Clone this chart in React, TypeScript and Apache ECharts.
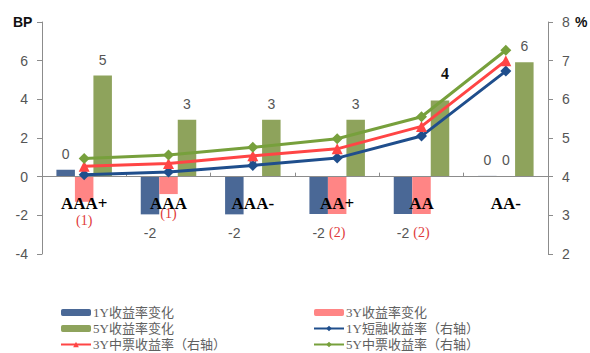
import React, { useEffect, useRef } from "react";
import * as echarts from "echarts";

const categories = ["AAA+", "AAA", "AAA-", "AA+", "AA", "AA-"];
const oneYChange = [0.36, -1.95, -1.95, -1.93, -1.93, 0.04];
const threeYChange = [-1.3, -0.9, 0.04, -1.93, -1.93, 0.03];
const fiveYChange = [5.23, 2.94, 2.94, 2.94, 3.94, 5.92];
const oneYShortYield = [4.05, 4.12, 4.29, 4.48, 5.05, 6.73];
const threeYMtnYield = [4.27, 4.34, 4.54, 4.72, 5.3, 7.0];
const fiveYMtnYield = [4.47, 4.56, 4.76, 4.98, 5.55, 7.27];
const leftTicks = [-4, -2, 0, 2, 4, 6, 8];
const rightTicks = [2, 3, 4, 5, 6, 7, 8];

const NAMES = {
  b1: "1Y收益率变化",
  b3: "3Y收益率变化",
  b5: "5Y收益率变化",
  l1: "1Y短融收益率（右轴）",
  l3: "3Y中票收益率（右轴）",
  l5: "5Y中票收益率（右轴）",
};

const SERIF = "'Liberation Serif', 'DejaVu Serif', 'Noto Sans CJK SC', serif";
const SANS = "'Liberation Sans', Arial, sans-serif";

const GRID_TOP = 22;
const GRID_BOTTOM = 99;
const CHART_H = 353;

function barData(values: number[], kind: "blue" | "pink" | "green") {
  return values.map((v, i) => {
    const neg = v < 0;
    const label: any = {
      show: true,
      position: neg ? "bottom" : "top",
      distance: neg ? 12 : 9,
      fontSize: 14,
      fontFamily: SANS,
      color: "#555",
    };
    if (kind === "pink" && neg) {
      label.color = "#e03a3a";
      label.fontFamily = SERIF;
      label.formatter = "(" + Math.round(-v) + ")";
    } else {
      const r = Math.round(v);
      label.formatter = String(r === 0 ? 0 : r);
    }
    if (kind === "green" && i === 4) {
      label.offset = [5, -10];
      label.color = "#111";
      label.fontFamily = SERIF;
      label.fontWeight = "bold";
      label.fontSize = 16;
    }
    return { value: v, label };
  });
}

export default function App() {
  const ref = useRef<HTMLDivElement>(null);
  useEffect(() => {
    if (!ref.current) return;
    const chart = echarts.init(ref.current, undefined, { renderer: "svg" });
    const axisGray = "#8c8c8c";
    const lmin = leftTicks[0];
    const lmax = leftTicks[leftTicks.length - 1];
    const gridH = CHART_H - GRID_TOP - GRID_BOTTOM;
    // distance of the zero line above the grid bottom
    const zeroOffset = (gridH * (0 - lmin)) / (lmax - lmin);
    const legendCommon = {
      orient: "vertical",
      top: 306,
      height: 60,
      padding: 0,
      itemWidth: 30,
      itemHeight: 7,
      itemGap: 3,
      textStyle: { fontSize: 13, color: "#606060", fontFamily: SERIF, padding: [0, 0, 0, -3] },
    };
    chart.setOption({
      animation: false,
      backgroundColor: "#ffffff",
      grid: { left: 42, right: 42, top: GRID_TOP, bottom: GRID_BOTTOM, containLabel: false },
      graphic: [
        {
          type: "text",
          left: 13,
          top: 15,
          style: { text: "BP", font: "bold 14px " + SANS, fill: "#111" },
        },
        {
          type: "text",
          left: 575,
          top: 15,
          style: { text: "%", font: "bold 14px " + SANS, fill: "#111" },
        },
      ],
      legend: [
        { ...legendCommon, left: 60, data: [NAMES.b1, NAMES.b5, NAMES.l3] },
        { ...legendCommon, left: 313, data: [NAMES.b3, NAMES.l1, NAMES.l5] },
      ],
      xAxis: {
        type: "category",
        data: categories,
        z: 5,
        offset: -zeroOffset,
        axisLine: { onZero: false, lineStyle: { color: axisGray, width: 1 } },
        axisTick: { show: true, inside: true, length: 4, lineStyle: { color: axisGray } },
        axisLabel: {
          margin: 18,
          fontSize: 17,
          fontWeight: "bold",
          fontFamily: SERIF,
          color: "#000",
        },
        splitLine: { show: false },
      },
      yAxis: [
        {
          type: "value",
          min: lmin,
          max: lmax,
          interval: 2,
          axisLine: { show: true, onZero: false, lineStyle: { color: axisGray } },
          axisTick: { show: true, length: 5, lineStyle: { color: axisGray } },
          axisLabel: {
            margin: 14,
            fontSize: 14,
            fontFamily: SANS,
            color: "#555",
            formatter: (v: number) => (v === 8 ? "" : String(v)),
          },
          splitLine: { show: false },
        },
        {
          type: "value",
          min: rightTicks[0],
          max: rightTicks[rightTicks.length - 1],
          interval: 1,
          axisLine: { show: true, onZero: false, lineStyle: { color: axisGray } },
          axisTick: { show: true, length: 5, lineStyle: { color: axisGray } },
          axisLabel: { margin: 14, fontSize: 14, fontFamily: SANS, color: "#555" },
          splitLine: { show: false },
        },
      ],
      series: [
        {
          name: NAMES.b1,
          type: "bar",
          yAxisIndex: 0,
          barWidth: 18.5,
          barGap: "0%",
          itemStyle: { color: "#4a6896" },
          data: barData(oneYChange, "blue"),
        },
        {
          name: NAMES.b3,
          type: "bar",
          yAxisIndex: 0,
          barWidth: 18.5,
          barGap: "0%",
          itemStyle: { color: "#ff8585" },
          data: barData(threeYChange, "pink"),
        },
        {
          name: NAMES.b5,
          type: "bar",
          yAxisIndex: 0,
          barWidth: 18.5,
          barGap: "0%",
          itemStyle: { color: "#8ea35c" },
          data: barData(fiveYChange, "green"),
        },
        {
          name: NAMES.l1,
          type: "line",
          yAxisIndex: 1,
          z: 6,
          symbol: "diamond",
          symbolSize: 11,
          lineStyle: { width: 3, color: "#1f4e8c" },
          itemStyle: { color: "#1f4e8c" },
          data: oneYShortYield,
        },
        {
          name: NAMES.l3,
          type: "line",
          yAxisIndex: 1,
          z: 6,
          symbol: "triangle",
          symbolSize: 11,
          lineStyle: { width: 3, color: "#ff4545" },
          itemStyle: { color: "#ff4545" },
          data: threeYMtnYield,
        },
        {
          name: NAMES.l5,
          type: "line",
          yAxisIndex: 1,
          z: 6,
          symbol: "diamond",
          symbolSize: 11,
          lineStyle: { width: 3, color: "#77a03c" },
          itemStyle: { color: "#77a03c" },
          data: fiveYMtnYield,
        },
      ],
    });
    return () => chart.dispose();
  }, []);
  return <div ref={ref} style={{ width: 590, height: 353, position: "absolute", left: 0, top: 0 }} />;
}
